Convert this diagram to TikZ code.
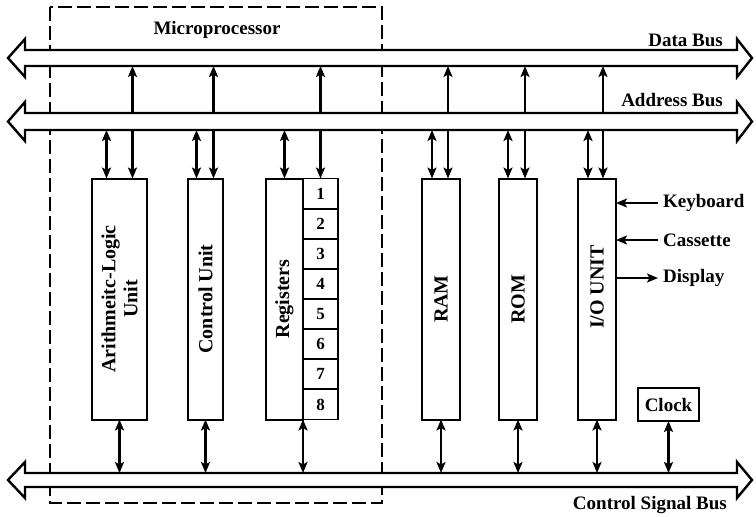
\documentclass[tikz,border=0pt]{standalone}
\usepackage{fontspec}
\setmainfont{Liberation Serif}
\usetikzlibrary{arrows.meta,positioning}

\begin{document}
\begin{tikzpicture}[
  x=1pt, y=-1pt,
  >={Stealth[length=11pt,width=9pt,inset=2.5pt]},
  unit/.style={draw, line width=2pt, inner sep=0pt, outer sep=0pt, minimum width=38pt, minimum height=241pt},
  cell/.style={draw, line width=1.8pt, inner sep=0pt, outer sep=0pt, minimum width=35pt, minimum height=30.125pt, font=\bfseries\fontsize{17}{19}\selectfont},
  vlabel/.style={rotate=90, align=center, inner sep=0pt, font=\bfseries\fontsize{20}{22}\selectfont},
  lbl/.style={inner sep=0pt, font=\bfseries\fontsize{19}{21}\selectfont},
  bus/.style={draw, fill=white, line width=2.4pt, line join=miter},
  link/.style={line width=2.2pt, ->},
  dlink/.style={line width=2.2pt, <->}
]
\useasboundingbox (0,0) rectangle (756,517);

% microprocessor outline
\draw[line width=1.8pt, dash pattern=on 14pt off 5pt] (50,7) rectangle (382,503);
\node[lbl] (mp) at (217,30) {Microprocessor};

% units
\node[unit, minimum width=55pt] (alu) at (119.5,299) {};
\node[vlabel] (alu-t) at (alu) {Arithmeitc-Logic\\Unit};
\node[unit, minimum width=35pt] (cu) at (205.5,299) {};
\node[vlabel] (cu-t) at (cu) {Control Unit};
\node[unit, minimum width=37pt] (reg) at (284.5,299) {};
\node[vlabel] (reg-t) at (reg) {Registers};
\node[cell, anchor=north west] (r1) at (reg.north east) {1};
\foreach \i [remember=\i as \j (initially 1)] in {2,...,8}
  \node[cell, below=0pt of r\j] (r\i) {\i};
\node[unit] (ram) at (441,299) {};
\node[vlabel] (ram-t) at (ram) {RAM};
\node[unit] (rom) at (518,299) {};
\node[vlabel] (rom-t) at (rom) {ROM};
\node[unit] (io) at (597,299) {};
\node[vlabel] (io-t) at ([yshift=12pt]io.center) {I/O UNIT};
\node[unit, minimum width=61pt, minimum height=33pt, font=\bfseries\fontsize{19}{21}\selectfont] (clk) at (668.5,404.5) {Clock};

% peripherals
\node[lbl, anchor=west] (kbd) at (663,203) {Keyboard};
\node[lbl, anchor=west] (cas) at (663,240) {Cassette};
\node[lbl, anchor=west] (dsp) at (663,278) {Display};
\draw[link] ([xshift=-5pt]kbd.west) -- (kbd.west -| io.east);
\draw[link] ([xshift=-5pt]cas.west) -- (cas.west -| io.east);
\draw[link] (dsp.west -| io.east) -- ([xshift=-5pt]dsp.west);

% bus edges
\coordinate (dbus) at (0,66);
\coordinate (abus) at (0,130);
\coordinate (cbus) at (0,473);

% connections to the buses
\foreach \u/\l/\r in {alu/-13/13, cu/-9/8, ram/-9/7, rom/-10/7, io/-9/6} {
  \draw[dlink] ([xshift=\l pt]\u.north) -- ([xshift=\l pt]\u.north |- abus);
  \draw[dlink] ([xshift=\r pt]\u.north) -- ([xshift=\r pt]\u.north |- dbus);
  \draw[dlink] (\u.south) -- (\u.south |- cbus);
}
\draw[dlink] (reg.north) -- (reg.north |- abus);
\draw[dlink] (r1.north) -- (r1.north |- dbus);
\draw[dlink] (reg.south east) -- (reg.south east |- cbus);
\draw[dlink] (clk.south) -- (clk.south |- cbus);

% buses
\foreach \ya/\yb in {50/66, 113/130, 473/487}
  \draw[bus] (8,{(\ya+\yb)/2}) -- (25,\ya-11) -- (25,\ya) -- (737,\ya) -- (737,\ya-11)
    -- (752,{(\ya+\yb)/2}) -- (737,\yb+11) -- (737,\yb) -- (25,\yb) -- (25,\yb+11) -- cycle;
\node[lbl, anchor=east] (dbus-t) at (723,40) {Data Bus};
\node[lbl, anchor=east] (abus-t) at (723,100) {Address Bus};
\node[lbl, anchor=east] (cbus-t) at (727,505) {Control Signal Bus};
\end{tikzpicture}
\end{document}
